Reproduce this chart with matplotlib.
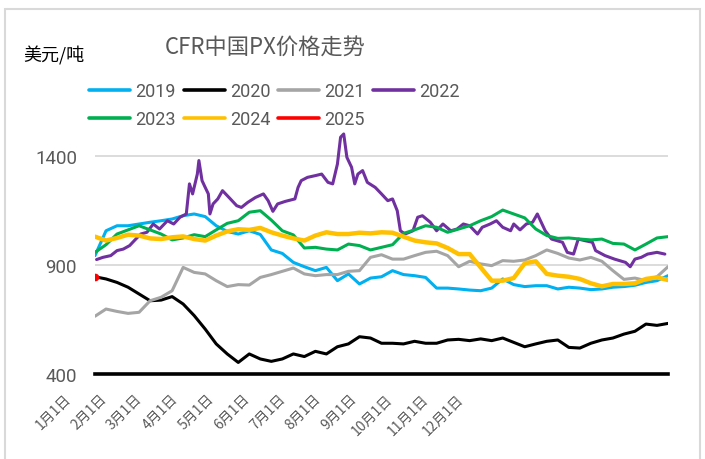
import matplotlib
matplotlib.use('Agg')
import numpy as np
import matplotlib.pyplot as plt
from matplotlib import transforms
from matplotlib.patches import Rectangle
from matplotlib.font_manager import FontProperties

plt.rcParams['font.family'] = ['Noto Sans CJK SC', 'DejaVu Sans']

# 周度取样（第几天）
week_days = np.arange(53) * 7

p2019 = [943, 1057, 1080, 1080, 1088, 1096, 1103, 1111, 1126, 1134, 1122, 1080, 1054, 1042,
         1057, 1040, 969, 953, 912, 892, 874, 889, 828, 859, 813, 840, 846,
         874, 856, 851, 843, 794, 794, 790, 785, 782, 794, 836, 810, 801,
         805, 805, 790, 798, 794, 787, 790, 798, 801, 807, 820, 828, 851]
p2020 = [846, 836, 820, 798, 767, 736, 739, 755, 721, 668, 606, 538, 492, 453,
         492, 469, 458, 469, 492, 480, 504, 492, 525, 538, 571, 565, 541,
         541, 538, 550, 541, 541, 556, 559, 553, 561, 553, 565, 545, 525,
         538, 550, 556, 522, 519, 541, 556, 565, 583, 596, 629, 623, 632]
p2021 = [665, 698, 687, 678, 683, 736, 752, 782, 889, 866, 859, 828, 801, 810,
         808, 843, 856, 871, 886, 859, 851, 856, 856, 871, 874, 935, 947,
         927, 927, 943, 958, 963, 943, 892, 917, 905, 897, 920, 917, 923,
         943, 969, 953, 932, 923, 935, 917, 874, 834, 840, 828, 846, 892]
p2023 = [958, 993, 1042, 1061, 1080, 1061, 1042, 1015, 1024, 1039, 1030, 1061, 1091, 1103,
         1142, 1149, 1106, 1057, 1038, 978, 981, 973, 969, 996, 989, 969, 981,
         993, 1045, 1061, 1080, 1073, 1050, 1065, 1080, 1103, 1122, 1152, 1134, 1116,
         1065, 1035, 1022, 1024, 1019, 1015, 1019, 999, 996, 969, 996, 1024, 1030]
p2024 = [1030, 1012, 1024, 1039, 1035, 1022, 1019, 1027, 1031, 1019, 1012, 1035, 1054, 1064,
         1061, 1070, 1050, 1035, 1022, 1012, 1035, 1050, 1042, 1042, 1048, 1045, 1050,
         1048, 1030, 1012, 1004, 999, 978, 950, 950, 889, 828, 828, 840, 908,
         917, 859, 851, 846, 836, 816, 802, 813, 813, 816, 836, 843, 831]

# 2022年波动大，单独取点
days_2022 = [1, 5, 10, 14, 18, 22, 25, 29, 33, 37, 41, 46, 50, 54, 58, 60, 62, 65, 66, 68,
             70, 72, 73, 75, 78, 81, 86, 90, 93, 97, 102, 107, 110, 113, 116, 121, 127, 129, 131, 135,
             140, 144, 148, 151, 154, 156, 158, 160, 163, 165, 167, 170, 173, 178, 182, 186, 189, 192, 194, 197,
             202, 205, 208, 213, 217, 221, 226, 230, 234, 238, 243, 246, 251, 255, 259, 264, 266, 270, 274, 278,
             281, 286, 290, 297, 300, 304, 307, 311, 316, 318, 324, 330, 337, 340, 343, 347, 351, 357, 362]
p2022 = [925, 935, 943, 966, 973, 989, 1012, 1042, 1050, 1088, 1065, 1103, 1088, 1119, 1134, 1272, 1226, 1317, 1379, 1287,
         1256, 1226, 1134, 1180, 1203, 1241, 1203, 1172, 1164, 1187, 1210, 1226, 1195, 1146, 1180, 1192, 1203, 1256, 1287, 1302,
         1310, 1317, 1279, 1272, 1363, 1486, 1501, 1394, 1348, 1272, 1317, 1333, 1279, 1256, 1226, 1195, 1203, 1149, 1057, 1042,
         1057, 1119, 1126, 1096, 1057, 1088, 1057, 1065, 1088, 1080, 1042, 1073, 1088, 1103, 1073, 1057, 1088, 1061, 1088, 1096,
         1134, 1057, 1019, 1004, 958, 950, 1019, 1012, 1004, 966, 943, 927, 912, 892, 927, 935, 950, 958, 950]

days_2025 = [0]
p2025 = [845]

month_labels = ['1月1日', '2月1日', '3月1日', '4月1日', '5月1日', '6月1日',
                '7月1日', '8月1日', '9月1日', '10月1日', '11月1日', '12月1日']
yticks = [400, 900, 1400]

fig = plt.figure(figsize=(7.05, 4.6), dpi=100)
ax = fig.add_axes([95/705, 1-375/460, 573/705, 242/460])

series = [
    ('2019', week_days, p2019, '#00B0F0', 2.2),
    ('2020', week_days, p2020, '#000000', 2.2),
    ('2021', week_days, p2021, '#A5A5A5', 2.2),
    ('2022', days_2022, p2022, '#7030A0', 2.2),
    ('2023', week_days, p2023, '#00B050', 2.2),
    ('2024', week_days, p2024, '#FFC000', 3.2),
]
handles = {}
for name, x, y, c, lw in series:
    ln, = ax.plot(x, y, color=c, lw=lw, solid_joinstyle='round', solid_capstyle='round', label=name)
    handles[name] = ln
ax.plot(days_2025, p2025, color='#FF0000', marker='o', ms=4.5, lw=2.2, ls='none')
handles['2025'] = plt.Line2D([], [], color='#FF0000', lw=2.6, solid_capstyle='round')

ax.set_xlim(0, 364)
ax.set_ylim(400, 1510)
ax.set_yticks(yticks)
ax.set_xticks([])
ax.yaxis.grid(True, color='#D9D9D9', lw=1.3)
ax.set_axisbelow(True)
for s in ['top', 'right', 'left']:
    ax.spines[s].set_visible(False)
ax.spines['bottom'].set_color('black')
ax.spines['bottom'].set_linewidth(2.6)
ax.tick_params(axis='y', length=0, pad=13, labelsize=13.5, labelcolor='#595959')
for lab in ax.get_yticklabels():
    lab.set_fontfamily('Roboto')

# 横轴标签（斜排）
trans = transforms.blended_transform_factory(ax.transData, ax.transAxes)
label_pos = -20 + 22.7 * np.arange(len(month_labels))
for xp, lab in zip(label_pos, month_labels):
    ax.text(xp, -0.07, lab, transform=trans, rotation=45, rotation_mode='anchor',
            ha='right', va='top', fontsize=10, color='#595959', clip_on=False)

order = ['2019', '2023', '2020', '2024', '2021', '2025', '2022']
leg = fig.legend([handles[k] for k in order], order, ncol=4, loc='upper left',
                 bbox_to_anchor=(89/705, 1-83/460), frameon=False, borderpad=0, borderaxespad=0,
                 prop=FontProperties(family='Roboto', size=13), handlelength=2.27,
                 handletextpad=0.28, columnspacing=0.45, labelspacing=0.58, labelcolor='#595959')
for ln in leg.get_lines():
    ln.set_linewidth(2.6)

fig.text(265/705, 1-48/460, 'CFR中国PX价格走势', ha='center', va='center', fontsize=16, color='#595959')
fig.text(23/705, 1-56/460, '美元/吨', ha='left', va='center', fontsize=13, color='black')

fig.patches.append(Rectangle((5/705, -0.01), 695/705, 1-10/460 + 0.01, transform=fig.transFigure,
                             fill=False, ec='#D9D9D9', lw=1.5))

fig.savefig('out.png', dpi=100)
